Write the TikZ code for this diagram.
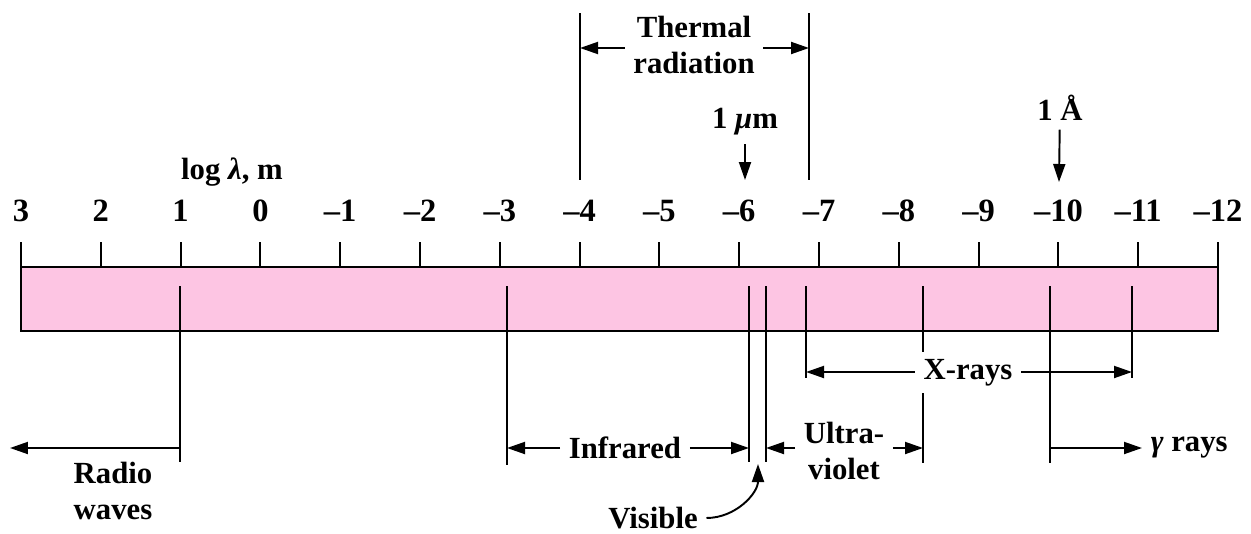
\documentclass[tikz,border=0pt]{standalone}
\usepackage{fontspec}
\setmainfont{Liberation Serif}
\usepackage{xcolor}
\usetikzlibrary{arrows.meta,positioning,calc}
\definecolor{barpink}{RGB}{253,197,227}

\begin{document}
\begin{tikzpicture}[x=0.02cm, y=-0.02cm, line width=1.1pt,
    arr/.style={-{Triangle[length=3.6mm,width=2.4mm]}},
    lbl/.style={font=\fontsize{17.5}{20.5}\selectfont\bfseries, align=center,
        inner sep=2pt, outer sep=3pt},
    num/.style={font=\fontsize{18.5}{20}\selectfont\bfseries}]
    \useasboundingbox (0,0) rectangle (1251,534);

    % spectrum bar
    \fill[barpink] (21,267) rectangle (1218,331);
    \draw[line width=1.4pt] (21,267) rectangle (1218,331);

    % log scale
    \foreach \v [count=\i from 0] in {3,2,...,-12} {
        \draw (21+\i*79.8,267) -- (21+\i*79.8,242);
        \node[num] at (21+\i*79.8,211)
            {\ifnum\v<0 –\the\numexpr-\v\relax\else\v\fi};
    }
    \node[lbl] (axis) at (232,172) {log \textit{λ}, m};

    % thermal radiation
    \coordinate (thL) at (580,48);
    \coordinate (thR) at (809,48);
    \draw (580,13) -- (580,180);
    \draw (809,13) -- (809,180);
    \node[lbl] (therm) at (694,45) {Thermal\\radiation};
    \draw[arr] (therm.west |- thL) -- (thL);
    \draw[arr] (therm.east |- thR) -- (thR);

    % reference lengths
    \coordinate (umTip) at (745,180);
    \node[lbl] (um) at (745,122) {1 \textit{μ}m};
    \draw[arr] (um) -- (umTip);
    \coordinate (aaTip) at (1059,182);
    \node[lbl] (aa) at (1060,108) {1 Å};
    \draw[arr] (aa) -- (aaTip);

    % band limits
    \draw (180,286) -- (180,462);
    \draw (507,286) -- (507,465);
    \draw (749,286) -- (749,462);
    \draw (766,286) -- (766,462);
    \draw (806,286) -- (806,378);
    \draw (923,286) -- (923,352);
    \draw (923,393) -- (923,463);
    \draw (1050,286) -- (1050,463);
    \draw (1132,286) -- (1132,378);

    % radio waves
    \coordinate (radioR) at (180,448);
    \coordinate (radioTip) at (10,448);
    \draw[arr] (radioR) -- (radioTip);
    \node[lbl] (radio) at (113,491) {Radio\\waves};

    % infrared
    \coordinate (irL) at (507,448);
    \coordinate (irR) at (749,448);
    \node[lbl] (ir) at (625,448) {Infrared};
    \draw[arr] (ir) -- (irL);
    \draw[arr] (ir) -- (irR);

    % visible
    \coordinate (visTip) at (758,464);
    \node[lbl] (vis) at (653,518) {Visible};
    \draw[arr] (vis.east) to[out=0, in=-90] (visTip);

    % ultraviolet
    \coordinate (uvL) at (766,448);
    \coordinate (uvR) at (923,448);
    \node[lbl] (uv) at (844,451) {Ultra-\\violet};
    \draw[arr] (uv.west |- uvL) -- (uvL);
    \draw[arr] (uv.east |- uvR) -- (uvR);

    % x-rays
    \coordinate (xrL) at (806,372);
    \coordinate (xrR) at (1132,372);
    \node[lbl] (xr) at (968,373) {X-rays};
    \draw[arr] (xr.west |- xrL) -- (xrL);
    \draw[arr] (xr.east |- xrR) -- (xrR);

    % gamma rays
    \coordinate (gaL) at (1050,448);
    \node[lbl, anchor=west] (ga) at (1142,448) {\textit{γ} rays};
    \draw[arr] (gaL) -- (ga);
\end{tikzpicture}
\end{document}
